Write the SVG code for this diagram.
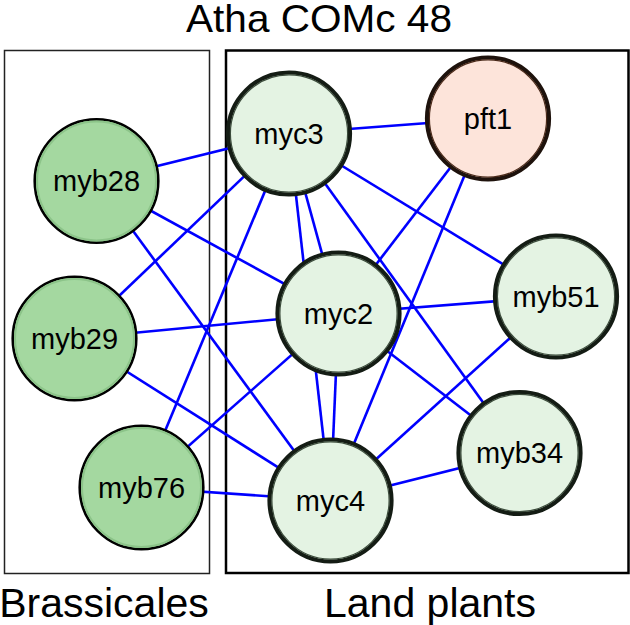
<svg xmlns="http://www.w3.org/2000/svg" width="630" height="625" viewBox="0 0 630 625">
<style>
text{font-family:"Liberation Sans",Arial,sans-serif;fill:#000}
.lbl{font-size:29px;text-anchor:middle}
.big{font-size:41px;text-anchor:middle}
.edge line{stroke:#0000ff;stroke-width:2.6}
.dk{fill:#a4d8a0;stroke:#000;stroke-width:2.6}
.dkin{fill:none;stroke:#8cc489;stroke-width:2}
.lt{fill:#e4f3e3;stroke:#141c14;stroke-width:4.2}
.ltin{fill:none;stroke:#3c4c3c;stroke-width:1.2}
.pk{fill:#fde4da;stroke:#1e120c;stroke-width:4.2}
.pkin{fill:none;stroke:#4a2a1a;stroke-width:1.2}
</style>
<rect width="630" height="625" fill="#fff"/>
<text class="big" x="319" y="31.5" style="font-size:39px" textLength="266" lengthAdjust="spacingAndGlyphs">Atha COMc 48</text>
<rect x="4.5" y="50.5" width="205" height="523" fill="none" stroke="#222" stroke-width="1.5"/>
<rect x="226" y="50.5" width="402.5" height="522.5" fill="none" stroke="#000" stroke-width="2.5"/>
<text class="big" x="104" y="617">Brassicales</text>
<text class="big" x="430" y="617">Land plants</text>
<g id="connectors" class="edge">
<line x1="289" y1="133.5" x2="488" y2="118.5"/>
<line x1="289" y1="133.5" x2="96.5" y2="181"/>
<line x1="289" y1="133.5" x2="74.5" y2="338.5"/>
<line x1="289" y1="133.5" x2="141.5" y2="487.5"/>
<line x1="289" y1="133.5" x2="338.5" y2="313.5"/>
<line x1="289" y1="133.5" x2="330.5" y2="500.5"/>
<line x1="289" y1="133.5" x2="519.5" y2="453"/>
<line x1="289" y1="133.5" x2="556" y2="296.5"/>
<line x1="488" y1="118.5" x2="338.5" y2="313.5"/>
<line x1="488" y1="118.5" x2="330.5" y2="500.5"/>
<line x1="96.5" y1="181" x2="338.5" y2="313.5"/>
<line x1="96.5" y1="181" x2="330.5" y2="500.5"/>
<line x1="74.5" y1="338.5" x2="338.5" y2="313.5"/>
<line x1="74.5" y1="338.5" x2="330.5" y2="500.5"/>
<line x1="141.5" y1="487.5" x2="338.5" y2="313.5"/>
<line x1="141.5" y1="487.5" x2="330.5" y2="500.5"/>
<line x1="338.5" y1="313.5" x2="556" y2="296.5"/>
<line x1="338.5" y1="313.5" x2="330.5" y2="500.5"/>
<line x1="338.5" y1="313.5" x2="519.5" y2="453"/>
<line x1="556" y1="296.5" x2="330.5" y2="500.5"/>
<line x1="519.5" y1="453" x2="330.5" y2="500.5"/>
</g>
<g id="myc3"><circle class="lt" cx="289" cy="133.5" r="61"/><circle class="ltin" cx="289" cy="133.5" r="58.6"/><text class="lbl" x="289" y="143.5">myc3</text></g>
<g id="pft1"><circle class="pk" cx="488" cy="118.5" r="61"/><circle class="pkin" cx="488" cy="118.5" r="58.6"/><text class="lbl" x="488" y="128.5">pft1</text></g>
<g id="myb28"><circle class="dk" cx="96.5" cy="181" r="61.8"/><circle class="dkin" cx="96.5" cy="181" r="59.5"/><text class="lbl" x="96.5" y="191">myb28</text></g>
<g id="myc2"><circle class="lt" cx="338.5" cy="313.5" r="61"/><circle class="ltin" cx="338.5" cy="313.5" r="58.6"/><text class="lbl" x="338.5" y="323.5">myc2</text></g>
<g id="myb51"><circle class="lt" cx="556" cy="296.5" r="61"/><circle class="ltin" cx="556" cy="296.5" r="58.6"/><text class="lbl" x="556" y="306.5">myb51</text></g>
<g id="myb29"><circle class="dk" cx="74.5" cy="338.5" r="61.8"/><circle class="dkin" cx="74.5" cy="338.5" r="59.5"/><text class="lbl" x="74.5" y="348.5">myb29</text></g>
<g id="myb34"><circle class="lt" cx="519.5" cy="453" r="61"/><circle class="ltin" cx="519.5" cy="453" r="58.6"/><text class="lbl" x="519.5" y="463">myb34</text></g>
<g id="myb76"><circle class="dk" cx="141.5" cy="487.5" r="61.8"/><circle class="dkin" cx="141.5" cy="487.5" r="59.5"/><text class="lbl" x="141.5" y="497.5">myb76</text></g>
<g id="myc4"><circle class="lt" cx="330.5" cy="500.5" r="61"/><circle class="ltin" cx="330.5" cy="500.5" r="58.6"/><text class="lbl" x="330.5" y="510.5">myc4</text></g>
</svg>
